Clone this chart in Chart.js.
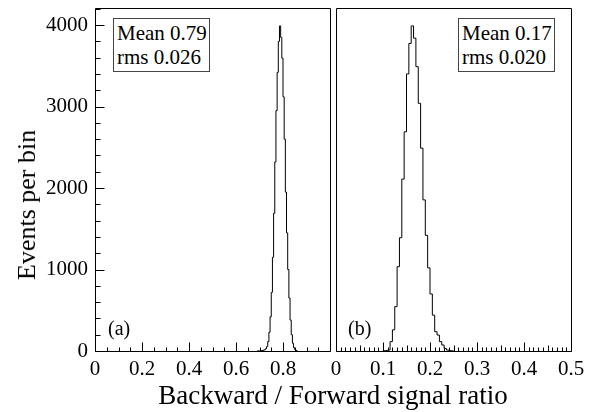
<!DOCTYPE html>
<html><head><meta charset="utf-8">
<script src="https://cdn.jsdelivr.net/npm/chart.js@4.4.1/dist/chart.umd.min.js"></script>
<style>
html,body{margin:0;padding:0;background:#fff;}
body{width:593px;height:412px;overflow:hidden;position:relative;font-family:'Liberation Serif','Times New Roman',serif;color:#000;}
canvas{position:absolute;top:0;}
.t{position:absolute;white-space:nowrap;color:#000;}
.box{position:absolute;border:1px solid #444;background:#fff;font-size:21px;line-height:24px;padding:2px 0 0 3px;box-sizing:border-box;white-space:nowrap;}
</style></head>
<body>
<canvas id="c1" width="333" height="412" style="left:0px"></canvas>
<canvas id="c2" width="273" height="412" style="left:320px"></canvas>
<div class="t" id="ytitle" style="left:27px;top:205px;font-size:26px;line-height:26px;transform:translate(-50%,-50%) rotate(-90deg);">Events per bin</div>
<div class="t" id="xtitle" style="left:333px;top:382px;font-size:27px;line-height:27px;transform:translateX(-50%);">Backward / Forward signal ratio</div>
<div class="box" style="left:113px;top:18px;width:97px;height:54px;">Mean 0.79<br>rms 0.026</div>
<div class="box" style="left:458px;top:18px;width:97px;height:54px;">Mean 0.17<br>rms 0.020</div>
<div class="t" style="left:108px;top:318px;font-size:20px;line-height:20px;">(a)</div>
<div class="t" style="left:348px;top:318px;font-size:20px;line-height:20px;">(b)</div>
<script>
// ---- data ----
const binWidth = 0.005;
// panel (a): counts per bin starting at 0.690
const leftStart = 0.690;
const leftCounts = [1, 2, 3, 5, 6, 10, 15, 28, 55, 115, 230, 420, 720, 1150, 1690, 2320, 2950, 3420, 3800, 3990, 3850, 3595, 3120, 2600, 1950, 1450, 1000, 650, 380, 200, 95, 40, 15, 5];
// panel (b): counts per bin starting at 0.100
const rightStart = 0.100;
const rightCounts = [3, 6, 12, 115, 260, 545, 1035, 1390, 2110, 2690, 3400, 3775, 3990, 3840, 3490, 3040, 2490, 1855, 1420, 1020, 700, 440, 237, 196, 115, 74, 30, 12, 5, 2];
const yTicks = [0, 1000, 2000, 3000, 4000];
const leftXTicks = [0, 0.2, 0.4, 0.6, 0.8];
const rightXTicks = [0, 0.1, 0.2, 0.3, 0.4, 0.5];

const FONT = "'Liberation Serif','Times New Roman',serif";
Chart.defaults.font.family = FONT;
Chart.defaults.font.size = 21;
Chart.defaults.color = '#000';

function histPoints(start, counts){
  const pts = [{x: start, y: 0}];
  counts.forEach((c, i) => pts.push({x: start + i * binWidth, y: c}));
  pts.push({x: start + counts.length * binWidth, y: 0});
  return pts;
}

const framePlugin = {
  id: 'frameTicks',
  afterDatasetsDraw(chart, args, o) {
    const {ctx, chartArea: a, scales: {x, y}} = chart;
    ctx.save();
    ctx.strokeStyle = '#000';
    ctx.lineWidth = 1;
    ctx.beginPath();
    ctx.rect(Math.round(a.left) + .5, Math.round(a.top) + .5, Math.round(a.right - a.left), Math.round(a.bottom - a.top));
    ctx.stroke();
    ctx.beginPath();
    const bottom = Math.round(a.bottom) + .5, left = Math.round(a.left) + .5;
    const nx = Math.round((x.max - x.min) / o.xMinor);
    for (let i = 0; i <= nx; i++) {
      const v = x.min + i * o.xMinor;
      let len = 4;
      if (i % o.xMajorEvery === 0) len = 9;
      else if (o.xMidEvery && i % o.xMidEvery === 0) len = 6;
      const px = Math.round(x.getPixelForValue(v)) + .5;
      ctx.moveTo(px, bottom); ctx.lineTo(px, bottom - len);
    }
    if (o.drawY) {
      const ny = Math.floor((y.max - y.min) / o.yMinor + 1e-9);
      for (let i = 0; i <= ny; i++) {
        const v = y.min + i * o.yMinor;
        const len = (i % o.yMajorEvery === 0) ? 9 : 5;
        const py = Math.round(y.getPixelForValue(v)) + .5;
        ctx.moveTo(left, py); ctx.lineTo(left + len, py);
      }
    }
    ctx.stroke();
    if (o.yLabels) {
      ctx.fillStyle = '#000';
      ctx.font = '21px ' + FONT;
      ctx.textAlign = 'right';
      ctx.textBaseline = 'middle';
      o.yLabels.forEach(v => ctx.fillText(String(v), Math.round(a.left) - 7, y.getPixelForValue(v)));
    }
    ctx.restore();
  }
};

function fmt(v){ return String(Math.round(v * 10) / 10); }

function makeChart(id, start, counts, xmax, xstep, xLabels, yWidth, pad, tickOpts) {
  return new Chart(document.getElementById(id), {
    type: 'line',
    data: { datasets: [{
      data: histPoints(start, counts),
      stepped: true,
      borderColor: '#000',
      borderWidth: 1,
      pointRadius: 0,
      fill: false,
      tension: 0
    }]},
    options: {
      responsive: false,
      animation: false,
      devicePixelRatio: 1,
      layout: { padding: pad },
      plugins: { legend: {display: false}, tooltip: {enabled: false}, frameTicks: tickOpts },
      scales: {
        x: {
          type: 'linear', min: 0, max: xmax,
          grid: {display: false, drawTicks: false},
          border: {display: false},
          ticks: {
            stepSize: xstep, padding: 6, maxRotation: 0, autoSkip: false, includeBounds: false,
            callback: (v) => xLabels.some(t => Math.abs(t - v) < 1e-9) ? fmt(v) : ''
          },
          afterFit(s){ s.height = 61; s.paddingLeft = 0; s.paddingRight = 0; }
        },
        y: {
          type: 'linear', min: 0, max: 4210,
          grid: {display: false, drawTicks: false},
          border: {display: false},
          ticks: { display: false },
          afterFit(s){ s.width = yWidth; s.paddingTop = 0; s.paddingBottom = 0; }
        }
      }
    },
    plugins: [framePlugin]
  });
}

makeChart('c1', leftStart, leftCounts, 1, 0.2, leftXTicks, 95,
  {left: 0, top: 8, right: 3, bottom: 0},
  {xMinor: 0.05, xMajorEvery: 4, xMidEvery: 0, drawY: true, yMinor: 200, yMajorEvery: 5, yLabels: yTicks});
makeChart('c2', rightStart, rightCounts, 0.5, 0.1, rightXTicks, 16,
  {left: 0, top: 8, right: 22, bottom: 0},
  {xMinor: 0.01, xMajorEvery: 10, xMidEvery: 5, drawY: false, yMinor: 200, yMajorEvery: 5, yLabels: null});
</script>
</body></html>
